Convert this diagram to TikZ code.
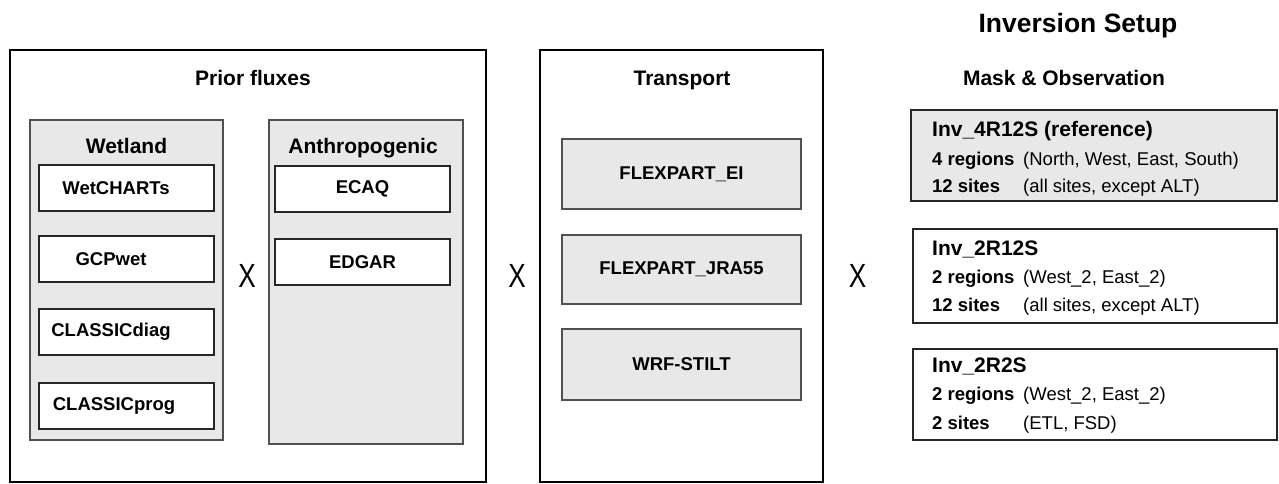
\documentclass[tikz,border=0pt]{standalone}
\usepackage{fontspec}
\setmainfont{Liberation Sans}
\definecolor{panelgray}{HTML}{E8E8E8}
\definecolor{edgegray}{HTML}{505050}
\tikzset{
  frame/.style={draw=black, line width=1.7pt, rectangle, inner sep=0pt},
  group/.style={draw=edgegray, fill=panelgray, line width=1.4pt, rectangle, inner sep=0pt},
  item/.style={draw=black!85, fill=white, line width=1.4pt, rectangle, inner sep=0pt,
    minimum width=175pt, minimum height=46pt, font=\bfseries\fontsize{18.5}{22}\selectfont},
  model/.style={draw=edgegray, fill=panelgray, line width=1.4pt, rectangle, inner sep=0pt,
    minimum width=239pt, font=\bfseries\fontsize{18.5}{22}\selectfont},
  setupbox/.style={draw=black!85, line width=1.4pt, rectangle, inner sep=0pt},
  heading/.style={font=\bfseries\fontsize{21}{25}\selectfont, inner sep=0pt, anchor=base},
  invtitle/.style={font=\bfseries\fontsize{21}{25}\selectfont, inner sep=0pt, anchor=base west},
  invline/.style={font=\fontsize{18.5}{22}\selectfont, inner sep=0pt, anchor=base west},
  times/.style={font=\fontsize{33.5}{36}\selectfont, inner sep=0pt}
}
\newcommand{\lbl}[1]{\makebox[91pt][l]{\bfseries #1}}
\newcommand{\crossmark}{\scalebox{0.78}[1]{X}}
\begin{document}
\begin{tikzpicture}[x=1pt,y=-1pt]
\useasboundingbox (0,0) rectangle (1279,483);

% ---- Prior fluxes ----
\node[frame, minimum width=476pt, minimum height=432pt] (prior) at (248,266) {};
\node[heading] (priortitle) at (253,85) {Prior fluxes};

\node[group, minimum width=193pt, minimum height=320pt] (wetland) at (126.5,280) {};
\node[heading] (wettitle) at (126.5,153.5) {Wetland};
\node[item] (wetcharts) at (126.5,188) {\hspace*{-21pt}WetCHARTs};
\node[item] (gcpwet) at (126.5,259) {\hspace*{-31pt}GCPwet};
\node[item] (cdiag) at (126.5,332) {\hspace*{-31pt}CLASSICdiag};
\node[item] (cprog) at (126.5,406) {\hspace*{-25pt}CLASSICprog};

\node[group, minimum width=194pt, minimum height=324pt] (anthro) at (366,282) {};
\node[heading] (anthrotitle) at (363,153.5) {Anthropogenic};
\node[item] (ecaq) at (362.5,189) {ECAQ};
\node[item] (edgar) at (362.5,262) {EDGAR};

\node[times] (x1) at (247,275.5) {\crossmark};

% ---- Transport ----
\node[times] (x2) at (517,275.5) {\crossmark};
\node[frame, minimum width=283pt, minimum height=432pt] (transport) at (681.5,266) {};
\node[heading] (transtitle) at (682,85) {Transport};
\node[model, minimum height=70pt] (fei) at (681.5,174) {FLEXPART\_EI};
\node[model, minimum height=69pt] (fjra) at (681.5,269.5) {FLEXPART\_JRA55};
\node[model, minimum height=71pt] (wrf) at (681.5,364.5) {WRF-STILT};

\node[times] (x3) at (857.5,275.5) {\crossmark};

% ---- Inversion setup ----
\node[font=\bfseries\fontsize{26.5}{30}\selectfont, inner sep=0pt, anchor=base] (invhead) at (1078,32.5) {Inversion Setup};
\node[heading] (maskhead) at (1064,85) {Mask \& Observation};

\node[setupbox, fill=panelgray, minimum width=366pt, minimum height=91pt] (inva) at (1094,155.5) {};
\node[invtitle] (invat) at (932,136) {Inv\_4R12S (reference)};
\node[invline] (inva1) at (932,165) {\lbl{4 regions}(North, West, East, South)};
\node[invline] (inva2) at (932,192.5) {\lbl{12 sites}(all sites, except ALT)};

\node[setupbox, fill=white, minimum width=364pt, minimum height=94pt] (invb) at (1095,276) {};
\node[invtitle] (invbt) at (932,255) {Inv\_2R12S};
\node[invline] (invb1) at (932,283) {\lbl{2 regions}(West\_2, East\_2)};
\node[invline] (invb2) at (932,311) {\lbl{12 sites}(all sites, except ALT)};

\node[setupbox, fill=white, minimum width=364pt, minimum height=91pt] (invc) at (1095,394.5) {};
\node[invtitle] (invct) at (932,372) {Inv\_2R2S};
\node[invline] (invc1) at (932,400.5) {\lbl{2 regions}(West\_2, East\_2)};
\node[invline] (invc2) at (932,429) {\lbl{2 sites}(ETL, FSD)};
\end{tikzpicture}
\end{document}
